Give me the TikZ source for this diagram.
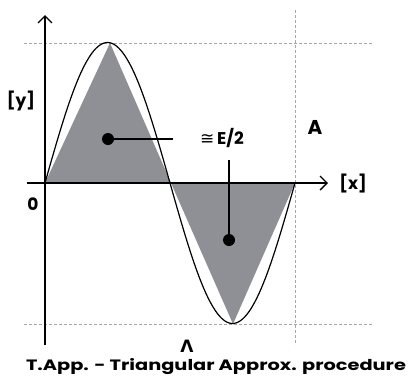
\documentclass[tikz,border=0pt]{standalone}
\usepackage{fontspec}
\setmainfont{Poppins}[BoldFont={Poppins Bold}]
\newfontfamily\symfont{DejaVu Sans}[BoldFont={DejaVu Sans Bold}]
\usetikzlibrary{arrows.meta}
\definecolor{fillgray}{HTML}{8E9096}
\begin{document}
\begin{tikzpicture}[x=1pt,y=-1pt,
  axis/.style={line width=1.4pt,-{Straight Barb[length=7pt,width=14pt,line width=1.4pt]}},
  guide/.style={gray!70,dashed,line width=0.6pt,dash pattern=on 3pt off 2pt},
  lbl/.style={font=\bfseries\fontsize{17}{20}\selectfont,inner sep=0pt},
  dotnode/.style={circle,fill=black,inner sep=0pt,minimum size=12pt},
  lead/.style={line width=1.4pt}]
\useasboundingbox (0,0) rectangle (409,381);
% triangles
\fill[fillgray] (45,183) -- (110,43) -- (171,183) -- cycle;
\fill[fillgray] (171,183) -- (233,324) -- (295,183) -- cycle;
% guides
\draw[guide] (24,43) -- (373,43);
\draw[guide] (24,324) -- (373,324);
\draw[guide] (295,10) -- (295,345);
% sine
\draw[line width=1.2pt,domain=45:295,samples=120,smooth] plot (\x,{183-140.5*sin((\x-45)*1.44)});
% axes
\draw[axis] (45,345) -- (45,15);
\draw[axis] (27,183) -- (328,183);
% labels
\node[lbl] (ylab) at (21,101) {[y]};
\node[lbl] (xlab) at (353,184) {[x]};
\node[lbl] (zero) at (33,204) {0};
\node[lbl,font=\bfseries\fontsize{20}{24}\selectfont] (alab) at (315,127) {A};
\node[lbl,font=\bfseries\fontsize{17}{20}\selectfont] (lam) at (187,346) {\symfont\bfseries Λ};
\node[lbl] (elab) at (222,138) {{\symfont\mdseries ≅}\,E/2};
\node[lbl,font=\bfseries\fontsize{15}{18}\selectfont,xscale=1.29] (title) at (216,367) {T.App. - Triangular Approx. procedure};
% dots and leaders
\node[dotnode] (d1) at (108,139) {};
\node[dotnode] (d2) at (229,240) {};
\coordinate (e1) at (173,139);
\coordinate (e2) at (229,160);
\draw[lead] (d1.center) -- (e1);
\draw[lead] (d2.center) -- (e2);
\end{tikzpicture}
\end{document}
